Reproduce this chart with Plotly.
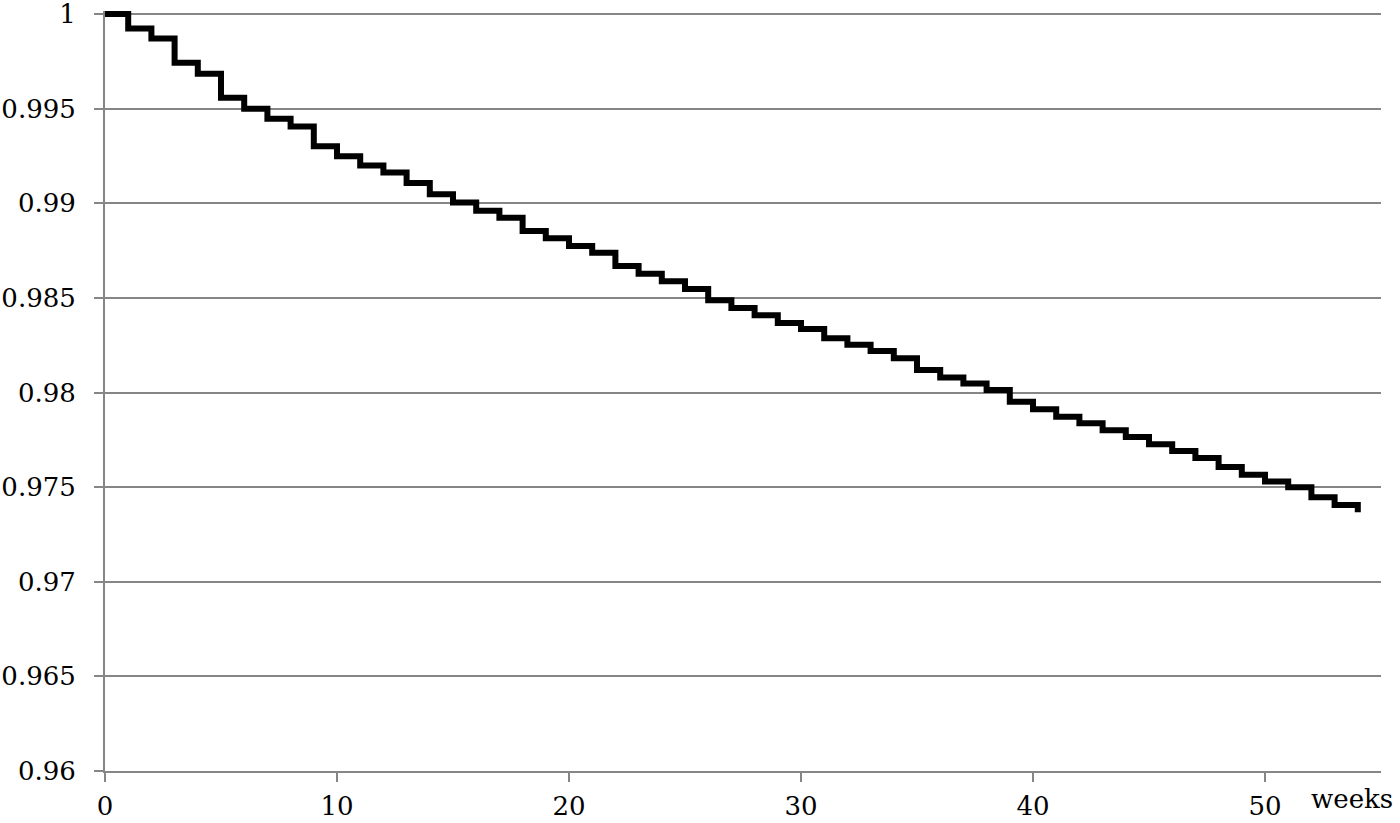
import plotly.graph_objects as go

# Survival-type step curve
weeks = list(range(0, 55))
survival = [
    1.0, 0.99924, 0.99871, 0.99743, 0.99685, 0.99558, 0.99500, 0.99446, 0.99406, 0.99301,
    0.99248, 0.99199, 0.99163, 0.99107, 0.99048, 0.99004, 0.98960, 0.98924, 0.98854, 0.98815,
    0.98774, 0.98738, 0.98668, 0.98627, 0.98588, 0.98547, 0.98487, 0.98446, 0.98408, 0.98367,
    0.98335, 0.98287, 0.98252, 0.98220, 0.98181, 0.98119, 0.98079, 0.98048, 0.98013, 0.97951,
    0.97912, 0.97872, 0.97838, 0.97801, 0.97765, 0.97727, 0.97691, 0.97654, 0.97606, 0.97565,
    0.97530, 0.97500, 0.97447, 0.97406, 0.97367,
]
x_ticks = [0, 10, 20, 30, 40, 50]
y_ticks = [0.96, 0.965, 0.97, 0.975, 0.98, 0.985, 0.99, 0.995, 1.0]
y_tick_labels = ["0.96", "0.965", "0.97", "0.975", "0.98", "0.985", "0.99", "0.995", "1"]

grid_color = "#868686"

fig = go.Figure()

fig.add_trace(
    go.Scatter(
        x=weeks,
        y=survival,
        mode="lines",
        line=dict(color="black", width=6, shape="hv"),
        showlegend=False,
        cliponaxis=False,
    )
)

# x-axis title sits to the right of the last tick label
fig.add_annotation(
    x=53.75,
    y=0,
    xref="x",
    yref="paper",
    text="weeks",
    showarrow=False,
    yanchor="top",
    yshift=-11,
    font=dict(size=26),
)

fig.update_layout(
    width=1400,
    height=823,
    paper_bgcolor="white",
    plot_bgcolor="white",
    margin=dict(l=105, r=19, t=11, b=52),
    font=dict(family="DejaVu Serif", size=26, color="black"),
    xaxis=dict(
        range=[0, 55],
        tickvals=x_ticks,
        showgrid=False,
        zeroline=False,
        showline=True,
        linecolor=grid_color,
        linewidth=2,
        ticks="outside",
        ticklen=9,
        tickwidth=2,
        tickcolor=grid_color,
        ticklabelstandoff=2,
        ticklabeloverflow="allow",
        automargin=False,
    ),
    yaxis=dict(
        range=[0.96, 1.00016],
        tickvals=y_ticks,
        ticktext=y_tick_labels,
        showgrid=True,
        gridcolor=grid_color,
        gridwidth=2,
        zeroline=False,
        showline=True,
        linecolor=grid_color,
        linewidth=2,
        ticks="outside",
        ticklen=9,
        tickwidth=2,
        tickcolor=grid_color,
        ticklabelstandoff=13,
        ticklabeloverflow="allow",
        automargin=False,
    ),
)

# drop the default page margin so the figure fills the window exactly
fig.write_html(
    "out.html",
    config={"displayModeBar": False},
    post_script="document.body.style.margin='0';document.body.style.overflow='hidden';",
)
